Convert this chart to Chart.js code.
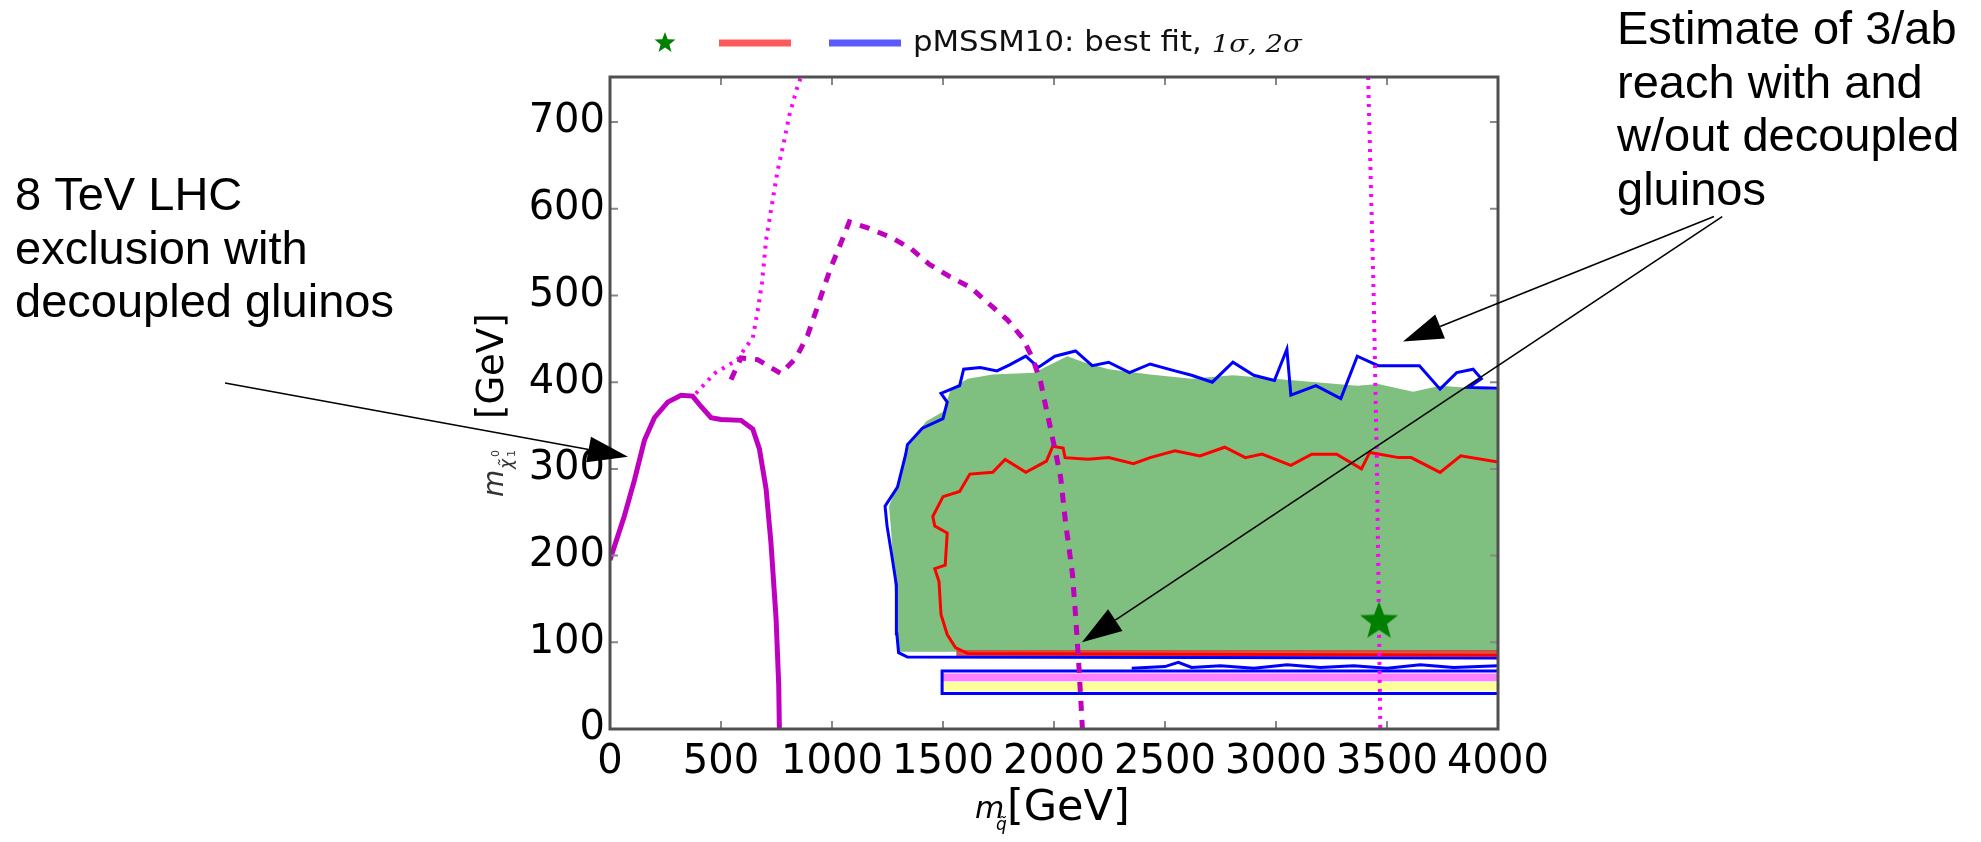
<!DOCTYPE html>
<html>
<head>
<meta charset="utf-8">
<title>pMSSM10 reach</title>
<script src="https://cdn.jsdelivr.net/npm/chart.js@4.4.1/dist/chart.umd.min.js"></script>
<style>
  body { margin: 0; background: #fff; }
  canvas { display: block; }
</style>
</head>
<body>
<canvas id="chart" width="1981" height="842"></canvas>
<script>
// values: [m_squark GeV, m_neutralino GeV]
var lhc8Exclusion = [[0,195],[65,246],[110,287],[155,333],[200,359],[260,377],[320,385],[372,384],[410,372],[455,359],[500,357],[590,356],[643,346],[673,323],[703,277],[725,215],[748,128],[760,51],[763,0]];
var reachDotted = [[387,387],[470,410],[575,426],[605,438],[643,451],[665,482],[685,515],[703,564],[733,610],[755,644],[781,674],[808,708],[841,738],[860,752]];
var reachDottedHigh = [[3415,752],[3440,500],[3455,300],[3465,100],[3470,0]];
var reachDashed = [[545,403],[590,428],[665,426],[770,410],[838,428],[890,454],[928,482],[958,505],[993,531],[1033,556],[1078,585],[1161,578],[1266,567],[1356,554],[1438,536],[1529,522],[1625,509],[1709,490],[1790,472],[1858,451],[1903,428],[1940,400],[1963,372],[1985,346],[2008,318],[2030,290],[2053,236],[2068,208],[2083,179],[2098,128],[2113,69],[2128,0]];

var fitRegion = [[1295,89],[1285,151],[1267,226],[1257,257],[1313,294],[1351,332],[1425,355],[1500,366],[1537,393],[1612,404],[1724,409],[1910,411],[2060,430],[2134,423],[2246,415],[2433,409],[2620,404],[2806,408],[2993,404],[3180,400],[3366,396],[3460,398],[3618,389],[3739,396],[4000,391],[4000,89]];
var sigma2 = [[4000,82],[1340,83],[1300,88],[1292,110],[1290,166],[1267,204],[1248,234],[1239,257],[1295,279],[1332,317],[1340,328],[1407,347],[1500,358],[1519,377],[1491,387],[1575,396],[1593,415],[1668,417],[1743,413],[1800,420],[1873,430],[1929,417],[2004,430],[2097,436],[2172,419],[2246,423],[2340,411],[2433,421],[2545,413],[2620,408],[2713,400],[2806,423],[2900,408],[2993,402],[3049,438],[3067,385],[3180,396],[3292,381],[3366,430],[3460,419],[3553,419],[3646,419],[3739,392],[3814,411],[3888,415],[3925,404],[3869,394],[4000,393]];
var sigma1 = [[4000,85],[1612,87],[1556,94],[1519,109],[1491,132],[1482,170],[1463,185],[1510,189],[1519,226],[1463,234],[1454,245],[1500,268],[1575,274],[1621,294],[1724,296],[1780,311],[1873,296],[1966,309],[1994,326],[2041,324],[2050,313],[2153,311],[2246,313],[2358,306],[2433,313],[2545,321],[2657,315],[2769,325],[2862,313],[2937,317],[3067,304],[3161,317],[3273,317],[3385,300],[3422,319],[3553,313],[3609,313],[3739,296],[3832,315],[4000,308]];
var sigma2Band = [[4000,67],[1496,67],[1496,41],[4000,41]];
var sigma2Wiggle = [[2350,70],[2500,72],[2560,77],[2620,71],[2750,73],[2900,70],[3050,74],[3200,71],[3350,73],[3500,70],[3650,74],[3800,71],[4000,73]];
var bandPink = [[1500,55],[4000,55],[4000,64],[1500,64]];
var bandYellow = [[1500,44],[4000,44],[4000,54],[1500,54]];
var bandRed = [[1560,84],[4000,84],[4000,91],[1560,91]];
var bestFit = [[3464,124]];

var xTicks = [0,500,1000,1500,2000,2500,3000,3500,4000];
var yTicks = [0,100,200,300,400,500,600,700];

var legendText = "pMSSM10: best fit, ";
var leftNote = ["8 TeV LHC", "exclusion with", "decoupled gluinos"];
var rightNote = ["Estimate of 3/ab", "reach with and", "w/out decoupled", "gluinos"];
// arrows: [from, to] in axis units
var arrows = [[[-1734,399],[81,314]], [[4973,591],[3572,447]], [[5010,591],[2126,100]]];

function pts(a) { return a.map(function(p){ return {x:p[0], y:p[1]}; }); }

function starImage(r, color) {
  var c = document.createElement('canvas');
  c.width = c.height = 2*r + 2;
  var g = c.getContext('2d');
  g.fillStyle = color;
  g.beginPath();
  for (var i = 0; i < 10; i++) {
    var a = -Math.PI/2 + i*Math.PI/5;
    var rr = i % 2 ? r*0.42 : r;
    g.lineTo(r + 1 + rr*Math.cos(a), r + 1 + rr*Math.sin(a));
  }
  g.closePath();
  g.fill();
  return c;
}
var bigStar = starImage(20, '#008000');
var smallStar = starImage(11, '#008000');

function line(data, color, width, dash, order) {
  return { data: pts(data), borderColor: color, borderWidth: width, borderDash: dash || [],
           pointRadius: 0, fill: false, tension: 0, order: order };
}
function area(data, color, order) {
  return { data: pts(data), borderWidth: 0, borderColor: color, backgroundColor: color,
           pointRadius: 0, fill: 'shape', tension: 0, order: order };
}

var decor = {
  id: 'decor',
  afterDraw: function(chart) {
    var ctx = chart.ctx, a = chart.chartArea;
    var xs = chart.scales.x, ys = chart.scales.y;
    ctx.save();
    // inward ticks
    ctx.strokeStyle = '#888';
    ctx.lineWidth = 2;
    xTicks.forEach(function(v){
      var px = xs.getPixelForValue(v);
      ctx.beginPath(); ctx.moveTo(px, a.bottom); ctx.lineTo(px, a.bottom - 8);
      ctx.moveTo(px, a.top); ctx.lineTo(px, a.top + 8); ctx.stroke();
    });
    yTicks.forEach(function(v){
      var py = ys.getPixelForValue(v);
      ctx.beginPath(); ctx.moveTo(a.left, py); ctx.lineTo(a.left + 8, py);
      ctx.moveTo(a.right, py); ctx.lineTo(a.right - 8, py); ctx.stroke();
    });
    // frame
    ctx.strokeStyle = '#505050';
    ctx.lineWidth = 3;
    ctx.strokeRect(a.left, a.top, a.right - a.left, a.bottom - a.top);

    // axis titles
    ctx.fillStyle = '#000';
    ctx.textBaseline = 'alphabetic';
    ctx.textAlign = 'left';
    ctx.font = 'italic 30px "DejaVu Sans"';
    ctx.fillText('m', 975, 818);
    ctx.font = 'italic 17px "DejaVu Sans"';
    ctx.fillText('q\u0303', 996, 830);
    ctx.font = '43px "DejaVu Sans"';
    ctx.fillText('[GeV]', 1007, 820);

    ctx.save();
    ctx.translate(503, 497);
    ctx.rotate(-Math.PI/2);
    ctx.fillStyle = '#333';
    ctx.font = 'italic 28px "DejaVu Sans"';
    ctx.fillText('m', 0, 0);
    ctx.font = 'italic 17px "DejaVu Sans"';
    ctx.fillText('\u03C7\u0303', 28, 9);
    ctx.font = '11px "DejaVu Sans"';
    ctx.fillText('0', 40, -4);
    ctx.fillText('1', 40, 12);
    ctx.fillStyle = '#000';
    ctx.font = '37px "DejaVu Sans"';
    ctx.fillText('[GeV]', 78, 0);
    ctx.restore();

    // legend
    ctx.drawImage(smallStar, 665 - smallStar.width/2, 43 - smallStar.height/2);
    ctx.lineWidth = 7;
    ctx.strokeStyle = '#ff5a5a';
    ctx.beginPath(); ctx.moveTo(719, 43); ctx.lineTo(791, 43); ctx.stroke();
    ctx.strokeStyle = '#5a5aff';
    ctx.beginPath(); ctx.moveTo(829, 43); ctx.lineTo(901, 43); ctx.stroke();
    ctx.save();
    ctx.translate(913, 44);
    ctx.scale(1.1, 1);
    ctx.fillStyle = '#111';
    ctx.textBaseline = 'middle';
    ctx.font = '28px "DejaVu Sans"';
    ctx.fillText(legendText, 0, 0);
    var w = ctx.measureText(legendText).width;
    ctx.font = 'italic 25px "DejaVu Serif"';
    ctx.fillText('1\u03C3, 2\u03C3', w, 1);
    ctx.restore();

    // notes
    ctx.textBaseline = 'alphabetic';
    ctx.fillStyle = '#000';
    ctx.font = '47px "Liberation Sans"';
    leftNote.forEach(function(t, i){ ctx.fillText(t, 15, 210 + i*53.5); });
    rightNote.forEach(function(t, i){ ctx.fillText(t, 1617, 44 + i*53.5); });

    // arrows
    ctx.strokeStyle = '#000';
    ctx.fillStyle = '#000';
    ctx.lineWidth = 1.6;
    arrows.forEach(function(ar){
      var x0 = xs.getPixelForValue(ar[0][0]), y0 = ys.getPixelForValue(ar[0][1]);
      var x1 = xs.getPixelForValue(ar[1][0]), y1 = ys.getPixelForValue(ar[1][1]);
      var ang = Math.atan2(y1 - y0, x1 - x0);
      var L = 40, H = 13;
      var bx = x1 - L*Math.cos(ang), by = y1 - L*Math.sin(ang);
      ctx.beginPath(); ctx.moveTo(x0, y0); ctx.lineTo(bx, by); ctx.stroke();
      ctx.beginPath();
      ctx.moveTo(x1, y1);
      ctx.lineTo(bx + H*Math.sin(ang), by - H*Math.cos(ang));
      ctx.lineTo(bx - H*Math.sin(ang), by + H*Math.cos(ang));
      ctx.closePath(); ctx.fill();
    });
    ctx.restore();
  }
};

new Chart(document.getElementById('chart'), {
  type: 'line',
  data: {
    datasets: [
      { data: pts(bestFit), pointStyle: bigStar, pointRadius: 20, showLine: false, order: 0 },
      line(lhc8Exclusion, '#bf00bf', 5, [], 1),
      line(reachDashed, '#bf00bf', 5, [10, 9], 2),
      line(reachDotted, '#ff00ff', 4, [3, 6], 3),
      line(reachDottedHigh, '#ff00ff', 4, [3, 6], 3),
      line(sigma1, '#ff0000', 3, [], 4),
      line(sigma2, '#0000ff', 3, [], 5),
      line(sigma2Wiggle, '#0000ff', 3, [], 6),
      line(sigma2Band, '#0000ff', 3, [], 7),
      area(bandRed, 'rgba(214,70,55,0.9)', 8),
      area(bandYellow, '#ffff99', 9),
      area(bandPink, '#ff80ff', 10),
      area(fitRegion, '#7fbf7f', 11)
    ]
  },
  options: {
    responsive: false,
    devicePixelRatio: 1,
    animation: false,
    events: [],
    layout: { padding: { left: 0, right: 483, top: 77, bottom: 0 } },
    plugins: { legend: { display: false }, tooltip: { enabled: false } },
    scales: {
      x: {
        type: 'linear', min: 0, max: 4000,
        grid: { display: false, drawTicks: false },
        border: { display: false },
        ticks: { stepSize: 500, padding: 10, color: '#000', minRotation: 0, maxRotation: 0, autoSkip: false,
                 font: { family: 'DejaVu Sans', size: 40 },
                 callback: function(v){ return String(v); } },
        afterFit: function(s){ s.height = 113; }
      },
      y: {
        type: 'linear', min: 0, max: 752,
        grid: { display: false, drawTicks: false },
        border: { display: false },
        ticks: { stepSize: 100, padding: 5, color: '#000', font: { family: 'DejaVu Sans', size: 40 },
                 callback: function(v){ return String(v); } },
        afterBuildTicks: function(s){ s.ticks = s.ticks.filter(function(t){ return t.value % 100 === 0; }); },
        afterFit: function(s){ s.width = 610; }
      }
    }
  },
  plugins: [decor]
});
</script>
</body>
</html>
